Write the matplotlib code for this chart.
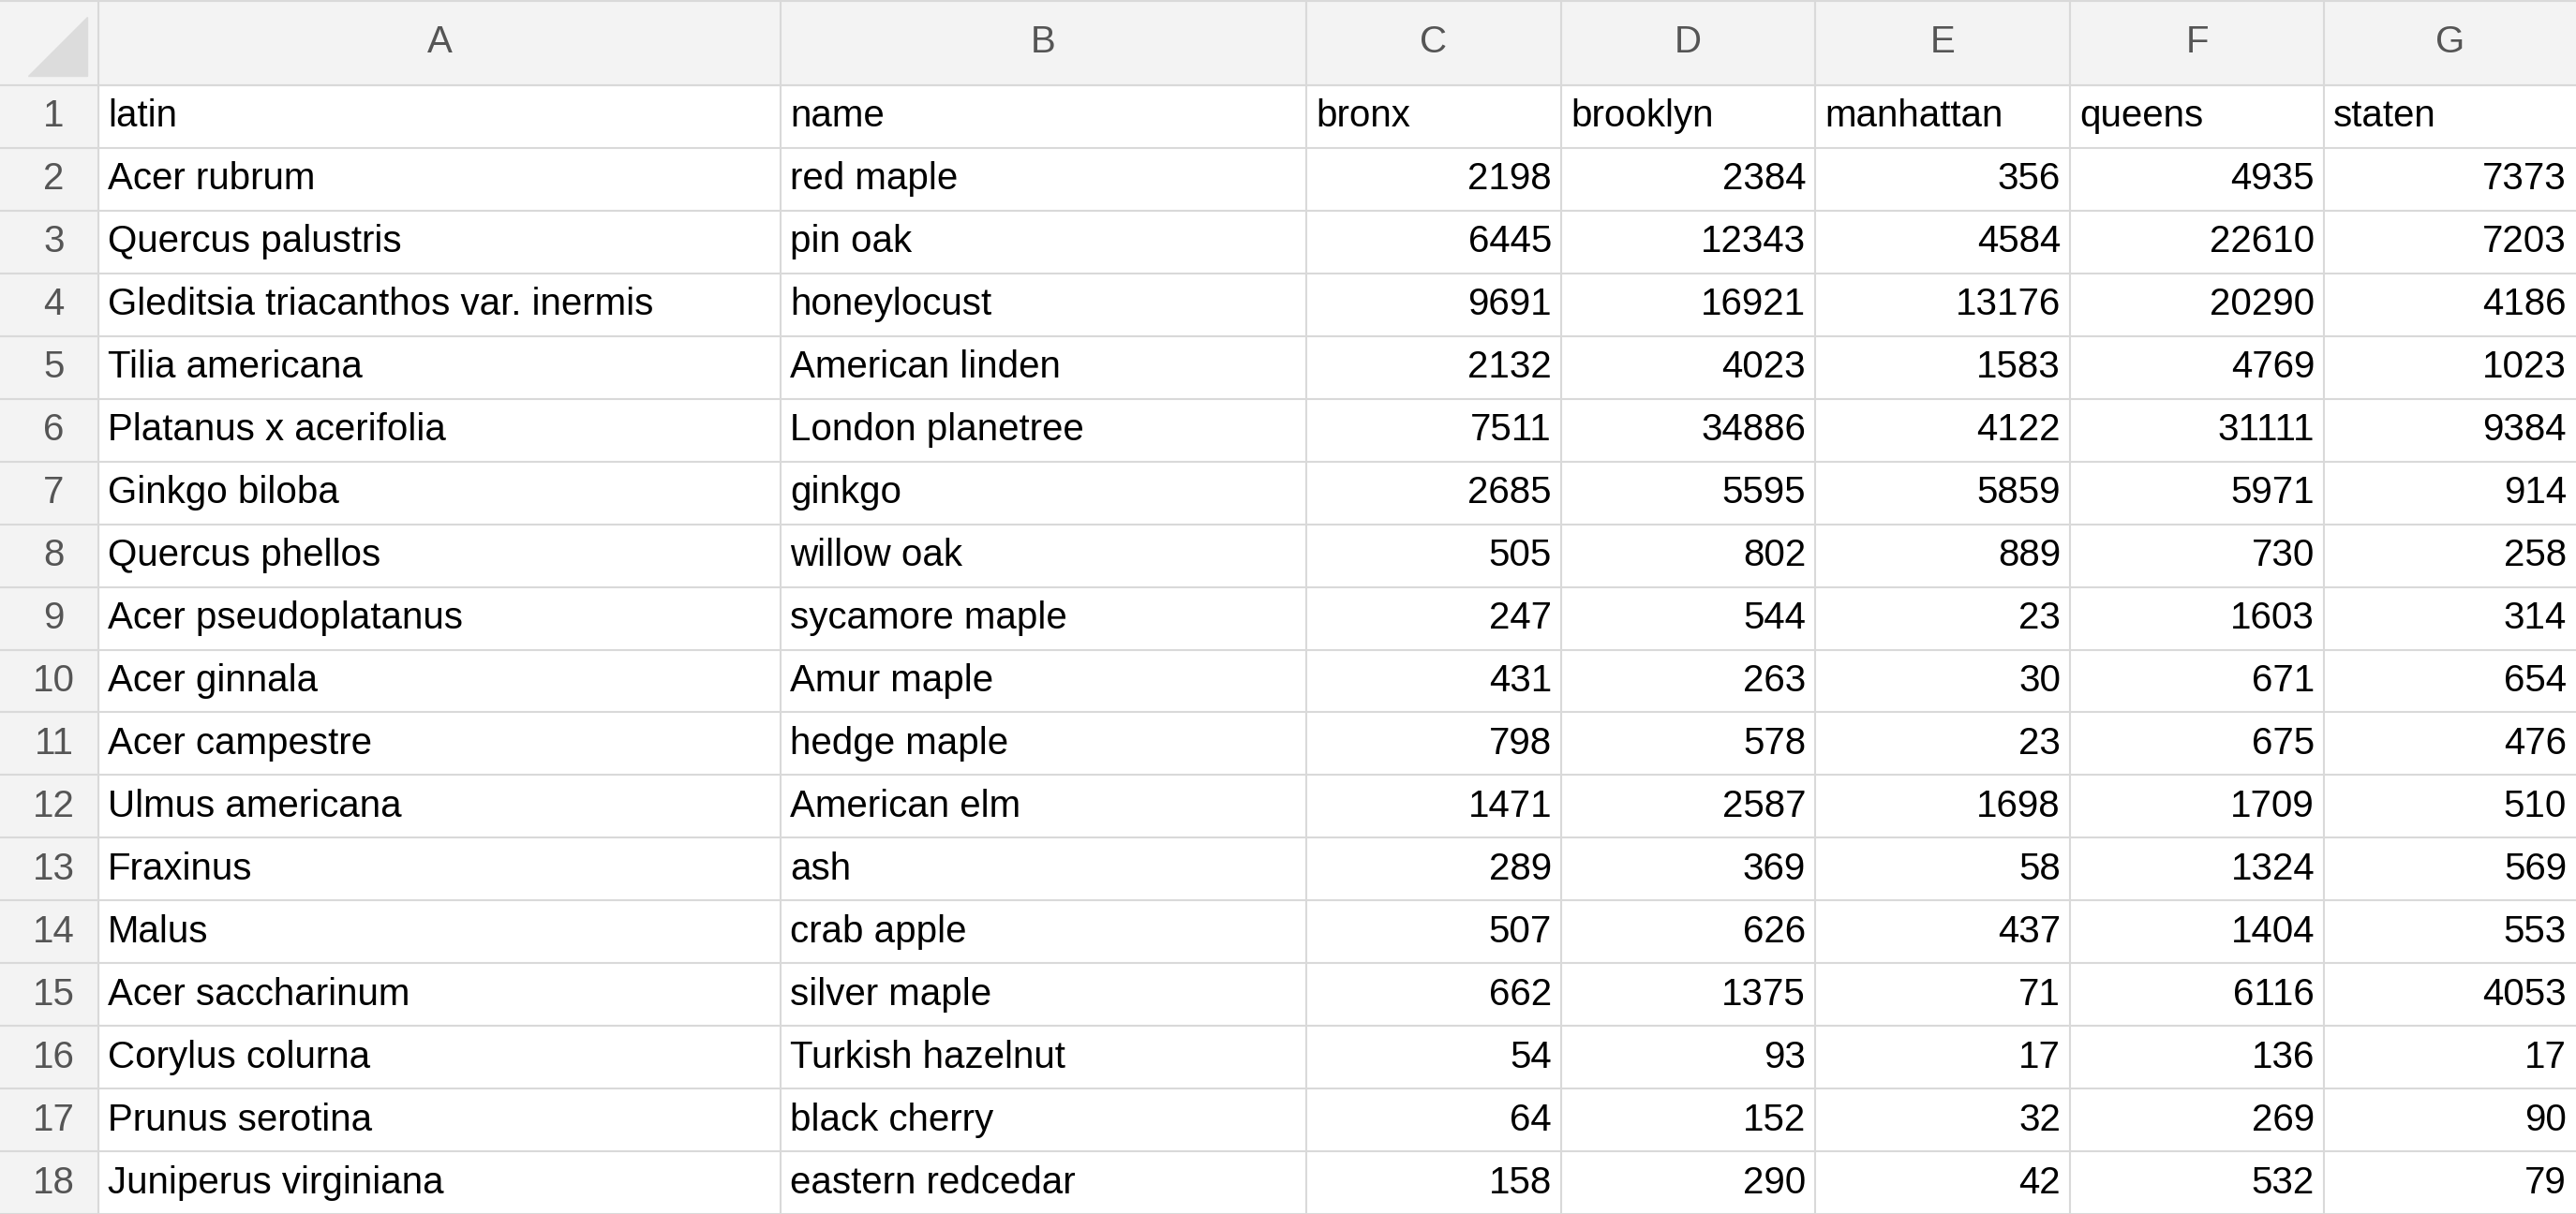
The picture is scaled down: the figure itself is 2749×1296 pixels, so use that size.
import matplotlib.pyplot as plt
from matplotlib.patches import Rectangle, Polygon

plt.rcParams['font.family'] = ['Liberation Sans', 'DejaVu Sans']

latin = ["Acer rubrum", "Quercus palustris", "Gleditsia triacanthos var. inermis",
         "Tilia americana", "Platanus x acerifolia", "Ginkgo biloba", "Quercus phellos",
         "Acer pseudoplatanus", "Acer ginnala", "Acer campestre", "Ulmus americana",
         "Fraxinus", "Malus", "Acer saccharinum", "Corylus colurna", "Prunus serotina",
         "Juniperus virginiana"]
name = ["red maple", "pin oak", "honeylocust", "American linden", "London planetree",
        "ginkgo", "willow oak", "sycamore maple", "Amur maple", "hedge maple",
        "American elm", "ash", "crab apple", "silver maple", "Turkish hazelnut",
        "black cherry", "eastern redcedar"]
bronx = [2198, 6445, 9691, 2132, 7511, 2685, 505, 247, 431, 798, 1471, 289, 507, 662, 54, 64, 158]
brooklyn = [2384, 12343, 16921, 4023, 34886, 5595, 802, 544, 263, 578, 2587, 369, 626, 1375, 93, 152, 290]
manhattan = [356, 4584, 13176, 1583, 4122, 5859, 889, 23, 30, 23, 1698, 58, 437, 71, 17, 32, 42]
queens = [4935, 22610, 20290, 4769, 31111, 5971, 730, 1603, 671, 675, 1709, 1324, 1404, 6116, 136, 269, 532]
staten = [7373, 7203, 4186, 1023, 9384, 914, 258, 314, 654, 476, 510, 569, 553, 4053, 17, 90, 79]
headers = ["latin", "name", "bronx", "brooklyn", "manhattan", "queens", "staten"]
col_letters = ["A", "B", "C", "D", "E", "F", "G"]

W, H = 2749, 1296
col_edges = [0, 105, 833, 1394, 1666, 1937, 2209, 2480, 2749]
hdr_h = 91
row_h = (H - hdr_h) / 18

fig = plt.figure(figsize=(W / 100, H / 100), dpi=100)
ax = fig.add_axes([0, 0, 1, 1])
ax.set_xlim(0, W)
ax.set_ylim(H, 0)
ax.axis('off')

grid = '#d9d9d9'
hdr_bg = '#f3f3f3'
fs = 29

ax.add_patch(Rectangle((0, 0), W, hdr_h, color=hdr_bg, zorder=0))
ax.add_patch(Rectangle((0, 0), col_edges[1], H, color=hdr_bg, zorder=0))
ax.add_patch(Polygon([[col_edges[1] - 12, 18], [col_edges[1] - 12, hdr_h - 10], [30, hdr_h - 10]],
                     color='#dcdcdc', zorder=1))

for x in col_edges[1:-1]:
    ax.plot([x, x], [0, H], color=grid, lw=1.5)
for i in range(19):
    y = hdr_h + i * row_h
    ax.plot([0, W], [y, y], color=grid, lw=1.5)
ax.plot([0, W], [1, 1], color=grid, lw=1.5)

for j, letter in enumerate(col_letters):
    cx = (col_edges[j + 1] + col_edges[j + 2]) / 2
    ax.text(cx, hdr_h / 2, letter, ha='center', va='center', fontsize=fs, color='#555555')

rows = [headers] + [[latin[i], name[i], bronx[i], brooklyn[i], manhattan[i], queens[i], staten[i]]
                    for i in range(len(latin))]
for r, row in enumerate(rows):
    cy = hdr_h + (r + 0.5) * row_h
    ax.text(col_edges[1] / 2 + 5, cy, str(r + 1), ha='center', va='center', fontsize=fs, color='#555555')
    for j, val in enumerate(row):
        if isinstance(val, int):
            ax.text(col_edges[j + 2] - 10, cy, str(val), ha='right', va='center', fontsize=fs, color='black')
        else:
            ax.text(col_edges[j + 1] + 10, cy, val, ha='left', va='center', fontsize=fs, color='black')

fig.savefig('out.png', dpi=100)
